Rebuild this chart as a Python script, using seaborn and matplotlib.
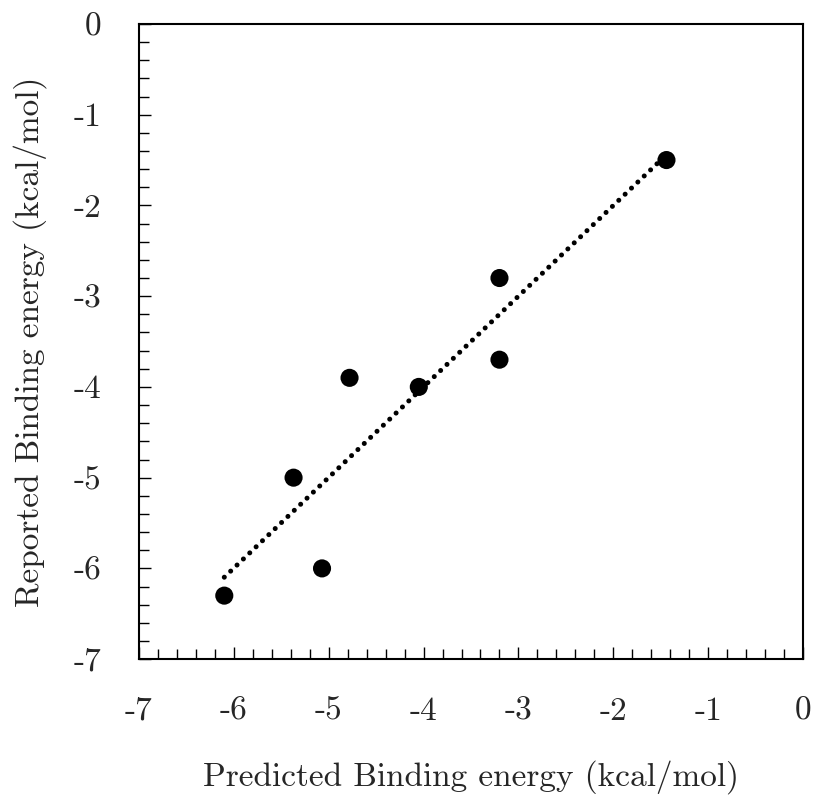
import numpy as np
import pandas as pd
import matplotlib
matplotlib.use("Agg")
import matplotlib.pyplot as plt
import seaborn as sns
from matplotlib.ticker import MultipleLocator

# --- DATA ---
predicted = [-6.10, -5.37, -5.07, -4.78, -4.05, -3.20, -3.20, -1.44]
reported = [-6.30, -5.00, -6.00, -3.90, -4.00, -2.80, -3.70, -1.50]
tick_values = [-7, -6, -5, -4, -3, -2, -1, 0]

df = pd.DataFrame({"predicted": predicted, "reported": reported})

sns.set_theme(style="ticks")
plt.rcParams['font.family'] = ['cmr10', 'DejaVu Serif']
plt.rcParams['axes.unicode_minus'] = False
plt.rcParams['mathtext.fontset'] = 'cm'

fig = plt.figure(figsize=(8.17, 7.98), dpi=100)
ax = fig.add_axes([0.170, 0.174, 0.813, 0.796])

# dotted trend line
sns.regplot(data=df, x="predicted", y="reported", ax=ax, ci=None,
            scatter=False, truncate=True,
            line_kws=dict(color="black", linewidth=3.6,
                          linestyle=(0, (0.01, 1.75)),
                          dash_capstyle="round"))

sns.scatterplot(data=df, x="predicted", y="reported", ax=ax,
                color="black", s=170, edgecolor="none", zorder=3)

ax.set_xlim(-7, 0)
ax.set_ylim(-7, 0)
ax.set_xticks(tick_values)
ax.set_yticks(tick_values)
ax.xaxis.set_minor_locator(MultipleLocator(0.2))
ax.yaxis.set_minor_locator(MultipleLocator(0.2))

ax.tick_params(axis="both", which="major", direction="in", length=8.5,
               width=1.0, labelsize=24, color="black", pad=27)
ax.tick_params(axis="both", which="minor", direction="in", length=7,
               width=1.0, color="black")
ax.tick_params(top=False, right=False, which="both")

for sp in ax.spines.values():
    sp.set_linewidth(1.5)
    sp.set_color("black")

ax.set_xlabel("Predicted Binding energy (kcal/mol)", fontsize=24, labelpad=25)
ax.set_ylabel("Reported Binding energy (kcal/mol)", fontsize=24, labelpad=19)

fig.savefig("out.png", dpi=100)
